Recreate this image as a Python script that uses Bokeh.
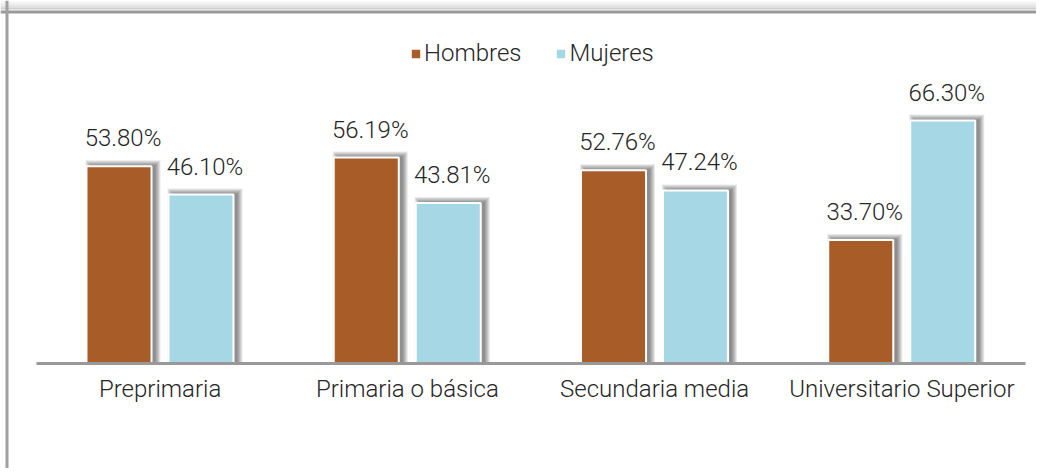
from bokeh.plotting import figure
from bokeh.models import (Range1d, LinearAxis, FixedTicker, Span, Legend, LegendItem,
                          ColumnDataSource)
from bokeh.core.properties import value
from bokeh.embed import file_html
from bokeh.resources import INLINE
import numpy as np

# ---- data ----
categories = ["Preprimaria", "Primaria o básica", "Secundaria media", "Universitario Superior"]
hombres = [53.80, 56.19, 52.76, 33.70]
mujeres = [46.10, 43.81, 47.24, 66.30]
series_names = ["Hombres", "Mujeres"]
colors = ["#A85C28", "#A5D8E4"]

# ---- layout constants ----
W, H = 1036, 468
X0, X1 = -0.1456, 4.0445
Y0, Y1 = -28.65, 99.05
BAR_W = 0.263
OFFS = [-0.1663, 0.1653]
FONT_NAME = "Roboto Light"
FONT = value(FONT_NAME)
FS = "24px"
TXT = "#262626"

px_x = (X1 - X0) / W
px_y = (Y1 - Y0) / H

p = figure(width=W, height=H, x_range=Range1d(X0, X1), y_range=Range1d(Y0, Y1),
           output_backend="svg", toolbar_location=None, x_axis_location=None,
           y_axis_location=None, min_border=0)
p.grid.visible = False
p.outline_line_color = None
p.background_fill_color = "white"
p.border_fill_color = "white"

pos = np.arange(len(categories)) + 0.5

# frame border (top & left) with soft shadow above the top edge
for yy, c in [(2, "#f4f4f4"), (4, "#ececec"), (6, "#e0e0e0"), (8, "#cfcfcf")]:
    p.add_layout(Span(location=Y1 - yy * px_y, dimension="width", line_color=c, line_width=2))
p.add_layout(Span(location=Y1 - 11.5 * px_y, dimension="width", line_color="#9a9a9a", line_width=3))
p.add_layout(Span(location=X0 + 6.5 * px_x, dimension="height", line_color="#a0a0a0", line_width=3))

renderers = []
for vals, off, col in zip([hombres, mujeres], OFFS, colors):
    vals = np.array(vals)
    xs = pos + off
    # blurred drop shadow (up-right)
    for k in range(6):
        p.vbar(x=xs + 4 * px_x, width=BAR_W + 2 * k * px_x, top=vals + (1 + k) * px_y,
               bottom=0, fill_color="black", fill_alpha=0.09, line_color=None)
    r = p.vbar(x=xs, width=BAR_W, top=vals, bottom=0, fill_color=col,
               line_color="white", line_width=2)
    renderers.append(r)
    src = ColumnDataSource(dict(x=xs, y=vals, t=[f"{v:.2f}%" for v in vals]))
    p.text(x="x", y="y", text="t", source=src, x_offset=4, y_offset=-28,
           text_align="center", text_baseline="alphabetic", text_font=FONT,
           text_font_size=FS, text_color=TXT)

axis = LinearAxis(fixed_location=0, bounds=(0, len(categories)),
                  ticker=FixedTicker(ticks=list(pos)),
                  major_label_overrides={float(x): c for x, c in zip(pos, categories)})
axis.axis_line_color = "#999999"
axis.axis_line_width = 3
axis.major_tick_line_color = None
axis.minor_tick_line_color = None
axis.major_label_standoff = 5
axis.major_label_text_font = FONT_NAME
axis.major_label_text_font_size = FS
axis.major_label_text_color = TXT
p.add_layout(axis, "below")

legend = Legend(items=[LegendItem(label=n, renderers=[r]) for n, r in zip(series_names, renderers)],
                location=(409, 401), orientation="horizontal", border_line_color=None,
                background_fill_alpha=0, glyph_width=13, glyph_height=13, label_standoff=2,
                spacing=33, padding=0, margin=0, label_text_font=FONT_NAME,
                label_text_font_size=FS, label_text_color=TXT)
p.add_layout(legend, "center")

open("out.html", "w").write(file_html(p, INLINE))
